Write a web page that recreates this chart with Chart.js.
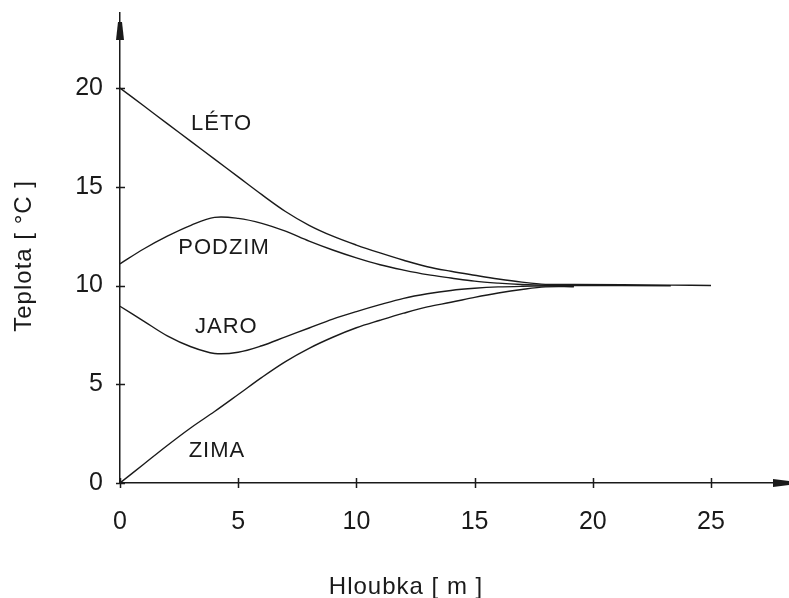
<!DOCTYPE html>
<html lang="cs">
  <head>
    <title>Teplota podle hloubky</title>
    <style>
      body { margin: 0; background: #fff; }
      #wrap { width: 789px; height: 598px; }
    </style>
  </head>
  <body>
    <div id="wrap">
      <canvas id="myChart"></canvas>
    </div>

    <script src="https://cdn.jsdelivr.net/npm/chart.js"></script>

    <script>
      // hloubka [m] a teploty pro jednotlivá roční období
      var hloubka = [0, 1, 2, 3, 4, 5, 6, 7, 8, 9, 10, 11, 12, 13, 14, 15, 16, 17, 18, 19.2, 23.3, 25];
      var leto   = [20, 19.1, 18.2, 17.3, 16.4, 15.5, 14.6, 13.75, 13.05, 12.5, 12.05, 11.65, 11.28, 10.95, 10.72, 10.52, 10.33, 10.17, 10.06, 10.05, 10.02, 10.0];
      var podzim = [11.1, 11.85, 12.5, 13.05, 13.45, 13.4, 13.15, 12.75, 12.25, 11.8, 11.4, 11.05, 10.78, 10.55, 10.38, 10.22, 10.12, 10.05, 10.01, 10.0, 9.99];
      var jaro   = [8.95, 8.2, 7.45, 6.9, 6.56, 6.62, 6.95, 7.4, 7.85, 8.3, 8.68, 9.03, 9.35, 9.58, 9.75, 9.86, 9.93, 9.96, 9.97, 9.97];
      var zima   = [0, 0.95, 1.9, 2.8, 3.62, 4.48, 5.35, 6.15, 6.82, 7.38, 7.86, 8.24, 8.6, 8.92, 9.15, 9.4, 9.62, 9.8, 9.93, 9.94];

      var xTicks = [0, 5, 10, 15, 20, 25];
      var yTicks = [0, 5, 10, 15, 20];

      // popisky křivek [text, hloubka, teplota]
      var popisky = [
        ["LÉTO", 4.3, 18.2],
        ["PODZIM", 4.4, 11.9],
        ["JARO", 4.5, 7.9],
        ["ZIMA", 4.1, 1.6],
      ];

      var FONT = "'Liberation Sans', Arial, sans-serif";
      var INK = "#1a1a1a";

      function body(vals) {
        return vals.map((v, i) => ({ x: hloubka[i], y: v }));
      }

      function serie(label, vals) {
        return {
          label: label,
          data: body(vals),
          borderColor: INK,
          borderWidth: 1.4,
          pointRadius: 0,
          tension: 0.35,
          fill: false,
        };
      }

      // osy se šipkami, křížové značky, popisky
      var dekorace = {
        id: "dekorace",
        afterDraw(chart) {
          var c = chart.ctx;
          var xs = chart.scales.x;
          var ys = chart.scales.y;
          var a = chart.chartArea;
          c.save();
          c.strokeStyle = INK;
          c.fillStyle = INK;
          c.lineWidth = 1.5;
          c.beginPath();
          xTicks.forEach((t) => {
            var px = Math.round(xs.getPixelForValue(t)) + 0.5;
            c.moveTo(px, a.bottom - 5);
            c.lineTo(px, a.bottom + 5);
          });
          yTicks.forEach((t) => {
            var py = Math.round(ys.getPixelForValue(t)) + 0.5;
            c.moveTo(a.left - 4, py);
            c.lineTo(a.left + 5, py);
          });
          c.stroke();

          // šipka osy y
          c.beginPath();
          c.moveTo(a.left - 2, a.top + 9);
          c.lineTo(a.left + 2, a.top + 9);
          c.lineTo(a.left + 4, a.top + 27);
          c.lineTo(a.left - 4, a.top + 27);
          c.closePath();
          c.fill();
          // šipka osy x
          c.beginPath();
          c.moveTo(a.right - 16, a.bottom - 4);
          c.lineTo(a.right, a.bottom - 2);
          c.lineTo(a.right, a.bottom + 2);
          c.lineTo(a.right - 16, a.bottom + 4);
          c.closePath();
          c.fill();

          c.font = "22px " + FONT;
          c.letterSpacing = "1px";
          c.textAlign = "center";
          c.textBaseline = "middle";
          popisky.forEach((p) => {
            c.fillText(p[0], xs.getPixelForValue(p[1]), ys.getPixelForValue(p[2]));
          });

          c.font = "24px " + FONT;
          c.textBaseline = "alphabetic";
          c.fillText("Hloubka [ m ]", xs.getPixelForValue(12.1), a.bottom + 111);
          c.translate(31, ys.getPixelForValue(11.5));
          c.rotate(-Math.PI / 2);
          c.fillText("Teplota [ °C ]", 0, 0);
          c.restore();
        },
      };

      const ctx = document.getElementById("myChart");
      new Chart(ctx, {
        type: "line",
        data: {
          datasets: [
            serie("LÉTO", leto),
            serie("PODZIM", podzim),
            serie("JARO", jaro),
            serie("ZIMA", zima),
          ],
        },
        options: {
          responsive: true,
          maintainAspectRatio: false,
          animation: false,
          layout: { padding: { top: 13, right: 0, left: 0, bottom: 0 } },
          plugins: { legend: { display: false }, tooltip: { enabled: false } },
          scales: {
            x: {
              type: "linear",
              min: 0,
              max: 28.3,
              afterFit(s) {
                s.height = 115;
                s.paddingLeft = 0;
                s.paddingRight = 0;
              },
              grid: { display: false, drawTicks: false },
              border: { display: true, color: INK, width: 1.5 },
              ticks: {
                stepSize: 5,
                includeBounds: false,
                padding: 24,
                color: INK,
                font: { family: FONT, size: 25 },
                maxRotation: 0,
              },
            },
            y: {
              type: "linear",
              min: 0,
              max: 23.8,
              afterFit(s) {
                s.width = 120;
                s.paddingTop = 0;
                s.paddingBottom = 0;
              },
              grid: { display: false, drawTicks: false },
              border: { display: true, color: INK, width: 1.5 },
              ticks: {
                stepSize: 5,
                includeBounds: false,
                padding: 17,
                color: INK,
                font: { family: FONT, size: 25 },
              },
            },
          },
        },
        plugins: [dekorace],
      });
    </script>
  </body>
</html>
